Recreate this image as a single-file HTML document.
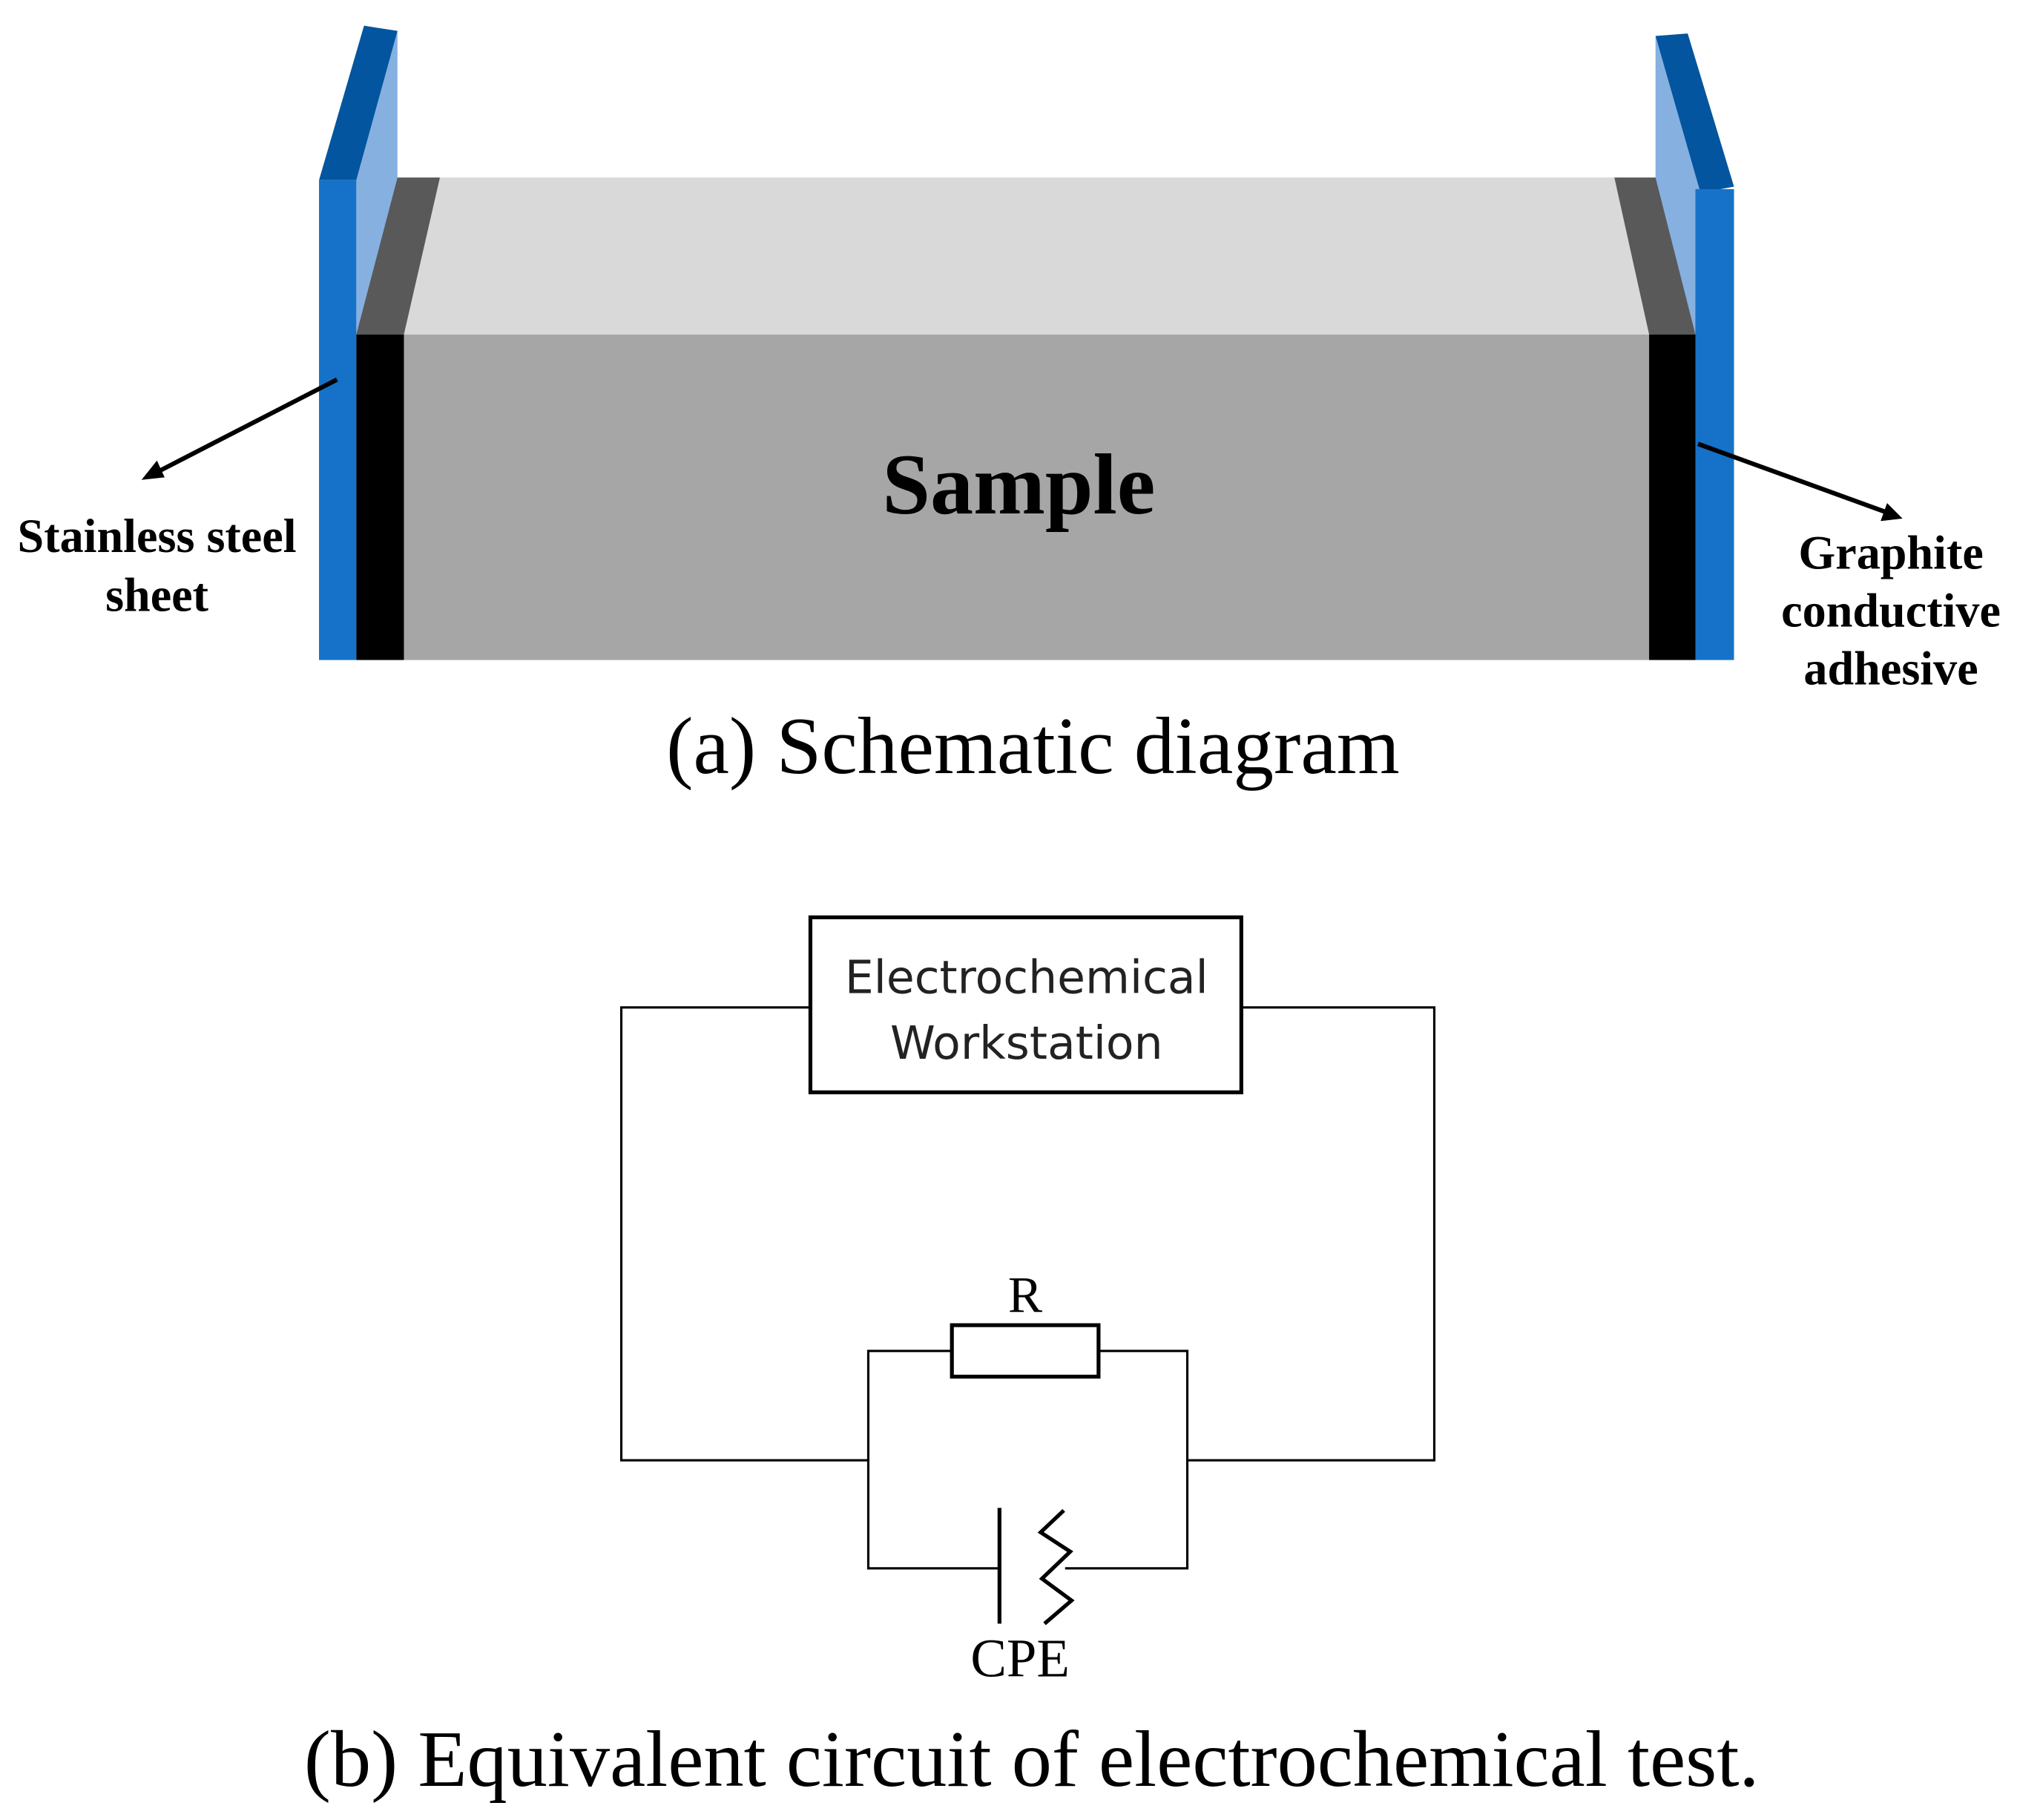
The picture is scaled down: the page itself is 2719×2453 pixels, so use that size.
<!DOCTYPE html>
<html><head><meta charset="utf-8"><style>html,body{margin:0;padding:0;background:#fff}svg{display:block}</style></head>
<body>
<svg width="2719" height="2453" viewBox="0 0 1568 1414.6" xmlns="http://www.w3.org/2000/svg">
<rect width="1568" height="1414.6" fill="#fff"/>
<polygon points="277,140 309,24 309,260 277,260" fill="#86B0E0"/>
<polygon points="248,140 283,20 309,24 277,140" fill="#02559E"/>
<rect x="248" y="140" width="29" height="373" fill="#1572C8"/>
<polygon points="1287,28 1322,150 1318,260 1287,260" fill="#86B0E0"/>
<polygon points="1287,28 1312,26 1348,145 1322,150" fill="#02559E"/>
<rect x="1318" y="147" width="30" height="366" fill="#1572C8"/>
<polygon points="314,260 342,138 1255,138 1282,260" fill="#D9D9D9"/>
<rect x="314" y="260" width="968" height="253" fill="#A6A6A6"/>
<polygon points="277,260 309,138 342,138 314,260" fill="#595959"/>
<polygon points="1282,260 1255,138 1287,138 1318,260" fill="#595959"/>
<rect x="277" y="260" width="37" height="253" fill="#000"/>
<rect x="1282" y="260" width="36" height="253" fill="#000"/>
<line x1="262" y1="295" x2="122" y2="367" stroke="#000" stroke-width="3.5"/>
<polygon points="110,373 122,358 128,371" fill="#000"/>
<line x1="1320" y1="345" x2="1466" y2="398" stroke="#000" stroke-width="3.5"/>
<polygon points="1479,403 1462,405 1467,391" fill="#000"/>
<g font-family="Liberation Serif, serif" font-weight="bold" font-size="37" text-anchor="middle" fill="#000">
<text x="122" y="429">Stainless steel</text>
<text x="122" y="475">sheet</text>
<text x="1470" y="442">Graphite</text>
<text x="1470" y="487">conductive</text>
<text x="1470" y="532">adhesive</text>
<text x="792" y="399" font-size="67">Sample</text>
</g>
<g font-family="Liberation Serif, serif" font-size="63" text-anchor="middle" fill="#000">
<text x="803" y="601">(a) Schematic diagram</text>
<text x="802" y="1388" font-size="62.5">(b) Equivalent circuit of electrochemical test.</text>
<text x="797" y="1020" font-size="40">R</text>
<text x="793" y="1303" font-size="42">CPE</text>
</g>
<g fill="none" stroke="#000">
<rect x="630" y="713" width="335" height="136" stroke-width="3"/>
<polyline points="630,783 483,783 483,1135 675,1135" stroke-width="1.8"/>
<polyline points="965,783 1115,783 1115,1135 923,1135" stroke-width="1.8"/>
<polyline points="740,1050 675,1050 675,1219 777,1219" stroke-width="1.8"/>
<polyline points="854,1050 923,1050 923,1219 828,1219" stroke-width="1.8"/>
<rect x="740" y="1030" width="114" height="40" stroke-width="3"/>
<line x1="777" y1="1172" x2="777" y2="1262" stroke-width="3"/>
<polyline points="827,1174 809,1191 832,1206 810,1227 833,1244 812,1262" stroke-width="3"/>
</g>
<g font-family="DejaVu Sans, sans-serif" font-size="35.5" text-anchor="middle" fill="#222">
<text x="798" y="772">Electrochemical</text>
<text x="798" y="823">Workstation</text>
</g>
</svg>
</body></html>
